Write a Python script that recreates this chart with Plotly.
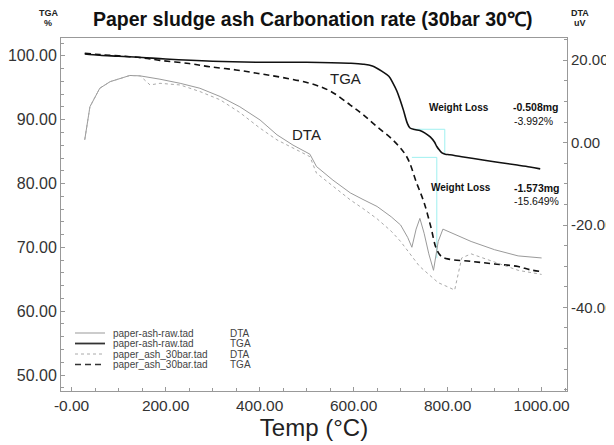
import plotly.graph_objects as go

# ---------------- data ----------------
tga_raw_T = [28, 60, 100, 150, 200, 300, 400, 500, 590, 620, 640, 662, 675, 684, 692, 699, 706, 714, 720,
             730, 741, 752, 763, 772, 777, 783, 788, 795, 805, 830, 875, 910, 948, 975, 997]
tga_raw_v = [100.3, 100.1, 99.95, 99.75, 99.5, 99.15, 99.0, 99.0, 98.85, 98.7, 98.4, 97.5, 96.8, 95.7, 94.5,
             93.1, 91.5, 89.5, 88.7, 88.45, 88.3, 87.9, 87.3, 86.5, 85.8, 85.2, 84.8, 84.6, 84.5, 84.2, 83.7,
             83.3, 82.9, 82.6, 82.3]

tga_30_T = [28, 60, 100, 150, 188, 250, 294, 350, 401, 450, 507, 550, 593, 620, 650, 684, 713, 734, 750,
            765, 775, 785, 800, 850, 900, 950, 975, 1000]
tga_30_v = [100.4, 100.2, 100.0, 99.7, 99.3, 98.8, 98.3, 97.8, 97.2, 96.6, 95.7, 94.5, 92.3, 90.8, 88.9,
            86.8, 84.2, 80.1, 77.0, 73.0, 70.0, 68.7, 68.2, 67.8, 67.4, 67.0, 66.5, 66.2]

dta_raw_T = [28, 39, 60, 82, 124, 146, 188, 231, 273, 316, 358, 401, 437, 471, 507, 521, 556, 593, 620,
             650, 680, 700, 715, 724, 733, 741, 750, 760, 770, 780, 790, 800, 820, 850, 900, 950, 1000]
dta_raw_v = [0.7, 8.7, 13.2, 14.8, 16.3, 16.2, 15.4, 14.4, 13.2, 11.2, 8.7, 5.5, 1.9, -0.6, -2.8, -5.8,
             -9.1, -12.2, -13.8, -15.5, -18.0, -20.0, -23.0, -25.4, -21.0, -18.4, -22.0, -27.0, -31.0,
             -24.0, -21.0, -21.5, -22.5, -24.0, -26.0, -27.5, -28.0]

dta_30_T = [28, 39, 60, 82, 124, 146, 167, 188, 231, 273, 316, 358, 401, 437, 471, 507, 521, 556, 593,
            620, 650, 680, 700, 720, 740, 760, 780, 800, 815, 830, 850, 900, 950, 1000]
dta_30_v = [0.7, 8.7, 13.2, 14.8, 16.3, 16.2, 14.0, 14.4, 14.0, 12.4, 10.4, 7.3, 3.5, 0.66, -1.3, -3.4,
            -7.4, -10.5, -13.9, -16.0, -18.5, -21.5, -24.0, -27.0, -30.0, -32.0, -34.0, -35.0, -35.8,
            -28.0, -27.0, -29.0, -31.0, -32.0]

x_tickvals = [0, 200, 400, 600, 800, 1000]
x_ticktext = ["-0.00", "200.00", "400.00", "600.00", "800.00", "1000.00"]
y2_tickvals = [20, 0, -20, -40]
y2_ticktext = ["20.00", "0.00", "-20.00", "-40.00"]

legend_names = ["paper-ash-raw.tad", "paper-ash-raw.tad", "paper_ash_30bar.tad", "paper_ash_30bar.tad"]
legend_kinds = ["DTA", "TGA", "DTA", "TGA"]

# weight-loss step markers (T, TGA %)
step1_T = [726, 794, 794]
step1_v = [88.5, 88.5, 84.8]
step2_T = [724, 777, 777]
step2_v = [84.1, 84.1, 68.3]

# ---------------- figure ----------------
# page body has an 8px margin, so the figure is 8px smaller than the window
W, H = 606, 437
L, R, T, B = 53, 47, 30, 54
PW, PH = W - L - R, H - T - B


def px_x(X):  # window pixel -> paper x
    return (X - 8 - L) / PW


def px_y(Y):  # window pixel -> paper y
    return 1 - (Y - 8 - T) / PH


fig = go.Figure()
fig.add_trace(go.Scatter(x=dta_raw_T, y=dta_raw_v, yaxis="y2", mode="lines",
                         line=dict(color="#9a9a9a", width=1), showlegend=False))
fig.add_trace(go.Scatter(x=dta_30_T, y=dta_30_v, yaxis="y2", mode="lines",
                         line=dict(color="#aaaaaa", width=1, dash="dot"), showlegend=False))
fig.add_trace(go.Scatter(x=step1_T, y=step1_v, mode="lines",
                         line=dict(color="#9ff0f0", width=1), showlegend=False))
fig.add_trace(go.Scatter(x=step2_T, y=step2_v, mode="lines",
                         line=dict(color="#9ff0f0", width=1), showlegend=False))
fig.add_trace(go.Scatter(x=tga_raw_T, y=tga_raw_v, mode="lines", line_shape="spline",
                         line=dict(color="#111111", width=1.6), showlegend=False))
fig.add_trace(go.Scatter(x=tga_30_T, y=tga_30_v, mode="lines", line_shape="spline",
                         line=dict(color="#111111", width=1.6, dash="6px,4px"), showlegend=False))

axis_col = "#999999"
fam = "Liberation Sans, Arial, sans-serif"
tick_x = dict(family=fam, size=15.5, color="#333333")
tick_l = dict(family=fam, size=16, color="#333333")
tick_r = dict(family=fam, size=15, color="#333333")

fig.update_layout(
    width=W, height=H,
    margin=dict(l=L, r=R, t=T, b=B, autoexpand=False),
    paper_bgcolor="white", plot_bgcolor="white",
    xaxis=dict(range=[-22.5, 1054], tickvals=x_tickvals, ticktext=x_ticktext,
               showgrid=False, zeroline=False, showline=True, linecolor=axis_col, linewidth=1,
               mirror=True, ticks="inside", ticklen=4, tickcolor=axis_col, tickfont=tick_x,
               minor=dict(dtick=50, tick0=0, ticks="inside", ticklen=3, tickcolor=axis_col),
               title=dict(text="Temp (°C)", font=dict(family=fam, size=24, color="#222222"), standoff=6)),
    yaxis=dict(range=[47.5, 102.8], dtick=10, tick0=0, tickformat=".2f",
               showgrid=False, zeroline=False, showline=True, linecolor=axis_col, linewidth=1,
               ticks="inside", ticklen=4, tickcolor=axis_col, tickfont=tick_l,
               minor=dict(dtick=2, ticks="inside", ticklen=3, tickcolor=axis_col)),
    yaxis2=dict(range=[-60.3, 25.4], overlaying="y", side="right", tickvals=y2_tickvals,
                ticktext=y2_ticktext, showgrid=False, zeroline=False, showline=True,
                linecolor=axis_col, linewidth=1, ticks="inside", ticklen=4, tickcolor=axis_col,
                tickfont=tick_r,
                minor=dict(dtick=5, ticks="inside", ticklen=3, tickcolor=axis_col)),
    showlegend=False,
)


def txt(text, X, Y, font, xanchor="center"):
    fig.add_annotation(text=text, xref="paper", yref="paper", x=px_x(X), y=px_y(Y),
                       xanchor=xanchor, yanchor="middle", showarrow=False, font=font, borderpad=0)


txt("<b>Paper sludge ash Carbonation rate (30bar 30℃)</b>", 312, 19,
    dict(family=fam, size=19.5, color="#111111"))
hdr = dict(family=fam, size=9, color="#222222")
txt("<b>TGA</b>", 48, 13, hdr)
txt("<b>%</b>", 48, 23, hdr)
txt("<b>DTA</b>", 580, 13, hdr)
txt("<b>uV</b>", 580, 23, hdr)

lab = dict(family=fam, size=15, color="#222222")
txt("TGA", 345, 78, lab)
txt("DTA", 306, 134, lab)

wl_b = dict(family=fam, size=10, color="#111111")
wl_v = dict(family=fam, size=10.5, color="#111111")
txt("<b>Weight Loss</b>", 428, 107, wl_b, "left")
txt("<b>-0.508mg</b>", 512, 107, wl_v, "left")
txt("-3.992%", 513, 121, wl_v, "left")
txt("<b>Weight Loss</b>", 430, 188, wl_b, "left")
txt("<b>-1.573mg</b>", 513, 188, wl_v, "left")
txt("-15.649%", 513, 201, wl_v, "left")

# manual legend
leg_rows = [333, 343.5, 354, 364.5]
leg_styles = [dict(color="#aaaaaa", width=1.2, dash="solid"),
              dict(color="#333333", width=1.8, dash="solid"),
              dict(color="#aaaaaa", width=1, dash="dot"),
              dict(color="#333333", width=1.5, dash="6px,4px")]
legfont = dict(family=fam, size=10, color="#444444")
for yp, st, nm, kd in zip(leg_rows, leg_styles, legend_names, legend_kinds):
    yy = px_y(yp)
    fig.add_shape(type="line", xref="paper", yref="paper", x0=px_x(75), x1=px_x(105),
                  y0=yy, y1=yy, line=st)
    txt(nm, 112, yp, legfont, "left")
    txt(kd, 229, yp, legfont, "left")

fig.write_html("out.html")
